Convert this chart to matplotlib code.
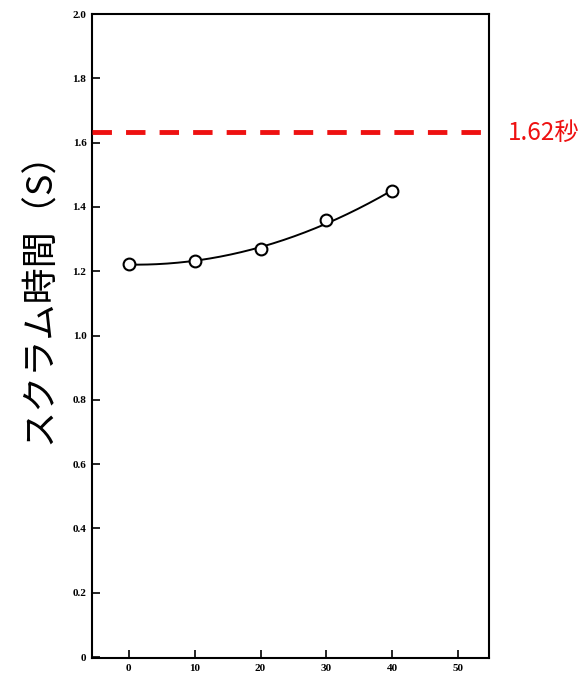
import numpy as np
import matplotlib
matplotlib.use("Agg")
import matplotlib.pyplot as plt

# Data
x_vals = [0, 10, 20, 30, 40]
y_vals = [1.222, 1.232, 1.268, 1.358, 1.448]
ref_value = 1.632
ref_label = "1.62秒"
y_ticks = [0, 0.2, 0.4, 0.6, 0.8, 1.0, 1.2, 1.4, 1.6, 1.8, 2.0]
y_ticklabels = ["0", "0.2", "0.4", "0.6", "0.8", "1.0", "1.2", "1.4", "1.6", "1.8", "2.0"]
x_ticks = [0, 10, 20, 30, 40, 50]
x_ticklabels = ["0", "10", "20", "30", "40", "50"]
y_label = "スクラム時間（S）"

fig = plt.figure(figsize=(5.87, 6.78), dpi=100)
ax = fig.add_axes([92/587, 1-658/678, (489-92)/587, (658-14)/678])

# smooth fitted curve through the points
coef = np.polyfit(x_vals, y_vals, 2)
xs = np.linspace(min(x_vals), max(x_vals), 200)
ax.plot(xs, np.polyval(coef, xs), color="black", lw=1.4, zorder=2)
ax.plot(x_vals, y_vals, "o", ms=8.5, mfc="white", mec="black", mew=1.5, zorder=3)

ax.axhline(ref_value, color="#ee1111", lw=3.5, dashes=(4.0, 2.9), zorder=4, clip_on=False)
ax.text(508/587, 1-133/678, ref_label, transform=fig.transFigure,
        color="#ee1111", fontsize=17.5, va="center", ha="left",
        family=["Noto Sans CJK JP", "DejaVu Sans"])

ax.set_xlim(-5.6, 54.7)
ax.set_ylim(-0.003, 2.0)
ax.set_yticks(y_ticks)
ax.set_yticklabels(y_ticklabels)
ax.set_xticks(x_ticks)
ax.set_xticklabels(x_ticklabels)
ax.tick_params(direction="in", length=6, width=1.2, labelsize=8, pad=4)
for lab in ax.get_xticklabels() + ax.get_yticklabels():
    lab.set_family("Liberation Serif")
    lab.set_fontweight("bold")
for sp in ax.spines.values():
    sp.set_linewidth(1.5)

fig.text(40/587, 1-289/678, y_label, rotation=90, ha="center", va="center",
         fontsize=26, family=["Noto Sans CJK JP", "DejaVu Sans"])

fig.savefig("out.png", dpi=100)
